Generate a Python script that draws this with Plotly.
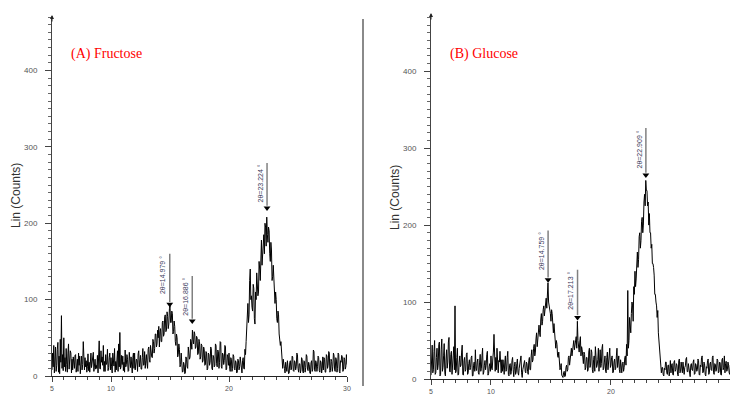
import plotly.graph_objects as go

# 2-theta grid (scan step 0.05 deg)
two_theta = [round(5 + 0.05 * i, 2) for i in range(501)]

fructose = [
    8, 30, 12, 40, 4, 22, 38, 6, 14, 35,
    44, 5, 26, 3, 48, 18, 79, 10, 28, 7,
    50, 12, 24, 6, 36, 15, 5, 30, 42, 9,
    18, 33, 30, 4, 22, 8, 25, 14, 10, 27,
    28, 5, 18, 22, 6, 30, 14, 26, 3, 19,
    26, 8, 15, 45, 20, 8, 24, 12, 20, 5,
    12, 29, 7, 18, 5, 24, 30, 11, 16, 27,
    31, 6, 20, 22, 9, 14, 10, 27, 4, 21,
    46, 10, 9, 33, 18, 25, 14, 40, 6, 19,
    6, 28, 15, 17, 35, 7, 11, 24, 30, 8,
    24, 12, 4, 30, 21, 13, 36, 5, 19, 8,
    21, 33, 6, 42, 12, 57, 9, 12, 27, 15,
    26, 7, 18, 5, 34, 12, 15, 28, 22, 6,
    7, 31, 20, 11, 25, 9, 4, 24, 30, 10,
    30, 8, 14, 22, 20, 6, 29, 33, 12, 18,
    27, 9, 9, 24, 36, 14, 15, 32, 10, 20,
    28, 16, 10, 35, 38, 22, 18, 40, 30, 25,
    24, 48, 45, 30, 36, 55, 55, 38, 42, 60,
    50, 65, 38, 58, 62, 45, 45, 70, 72, 52,
    55, 78, 80, 58, 60, 84, 78, 62, 68, 88,
    92, 70, 70, 85, 82, 55, 58, 72, 65, 45,
    40, 55, 50, 25, 28, 42, 35, 12, 15, 30,
    20, 5, 6, 18, 15, 3, 4, 25, 22, 12,
    10, 38, 32, 22, 25, 48, 45, 35, 60, 48,
    42, 58, 55, 36, 38, 52, 50, 28, 30, 48,
    45, 22, 25, 42, 40, 18, 20, 38, 35, 14,
    15, 32, 30, 8, 10, 30, 28, 14, 18, 38,
    36, 10, 8, 27, 25, 12, 14, 42, 40, 16,
    12, 34, 32, 10, 18, 45, 44, 12, 10, 30,
    28, 15, 20, 40, 38, 8, 9, 28, 25, 14,
    30, 12, 6, 24, 22, 6, 10, 28, 26, 10,
    8, 20, 18, 4, 5, 22, 20, 8, 12, 25,
    15, 6, 4, 20, 24, 10, 9, 35, 28, 45,
    60, 75, 95, 70, 80, 125, 140, 100, 105, 90,
    85, 120, 115, 75, 68, 110, 100, 135, 125, 105,
    110, 150, 140, 125, 155, 178, 145, 160, 170, 185,
    160, 200, 195, 170, 208, 185, 175, 195, 190, 160,
    150, 175, 165, 125, 130, 145, 120, 100, 95, 110,
    100, 75, 70, 85, 80, 55, 50, 40, 45, 28,
    25, 10, 22, 18, 10, 4, 18, 12, 6, 20,
    14, 3, 4, 18, 20, 8, 9, 26, 25, 7,
    6, 20, 18, 8, 12, 30, 28, 10, 5, 16,
    16, 4, 8, 24, 22, 6, 4, 20, 19, 5,
    11, 28, 26, 9, 7, 18, 15, 4, 3, 17,
    20, 6, 9, 34, 32, 8, 6, 20, 17, 6,
    12, 26, 24, 7, 5, 20, 18, 4, 10, 25,
    8, 24, 22, 5, 5, 28, 26, 10, 14, 32,
    30, 5, 7, 22, 19, 6, 12, 30, 27, 8,
    6, 24, 21, 5, 10, 30, 28, 6, 4, 20,
    18, 27, 25, 6, 8, 24, 22, 9, 12, 28,
    15,
]

glucose = [
    5, 30, 44, 8, 12, 36, 50, 6, 8, 28,
    40, 12, 18, 45, 48, 4, 6, 38, 52, 10,
    15, 30, 46, 8, 4, 26, 38, 14, 22, 48,
    54, 10, 9, 32, 36, 6, 14, 30, 42, 12,
    95, 8, 10, 28, 40, 5, 6, 22, 30, 16,
    18, 35, 44, 6, 5, 24, 28, 10, 12, 32,
    34, 6, 8, 20, 25, 12, 15, 28, 30, 4,
    4, 18, 22, 10, 38, 14, 11, 22, 26, 8,
    6, 22, 32, 10, 14, 30, 40, 6, 9, 18,
    24, 12, 18, 32, 36, 5, 7, 16, 20, 10,
    30, 14, 12, 26, 35, 58, 40, 10, 28, 12,
    40, 18, 8, 24, 22, 36, 14, 8, 25, 10,
    25, 8, 6, 22, 30, 10, 12, 28, 36, 6,
    4, 18, 20, 6, 10, 24, 28, 12, 3, 16,
    22, 6, 9, 20, 26, 8, 5, 14, 18, 26,
    30, 8, 2, 12, 15, 20, 24, 10, 8, 22,
    20, 10, 6, 24, 28, 12, 12, 30, 38, 22,
    25, 40, 45, 30, 35, 52, 60, 42, 50, 65,
    70, 60, 55, 78, 85, 70, 75, 90, 95, 82,
    88, 100, 105, 92, 110, 125, 100, 95, 92, 85,
    75, 90, 85, 65, 60, 72, 55, 40, 40, 50,
    45, 30, 28, 35, 20, 12, 15, 20, 5, 2,
    2, 8, 10, 3, 4, 15, 18, 10, 12, 28,
    30, 18, 25, 38, 40, 30, 35, 45, 50, 38,
    45, 52, 55, 40, 75, 50, 40, 35, 48, 55,
    30, 42, 38, 22, 20, 35, 32, 12, 15, 28,
    28, 10, 12, 35, 40, 15, 18, 38, 35, 12,
    8, 25, 30, 10, 42, 30, 15, 18, 25, 40,
    10, 28, 38, 15, 20, 40, 45, 12, 14, 22,
    30, 10, 8, 28, 35, 12, 22, 38, 40, 15,
    18, 28, 30, 8, 9, 22, 26, 12, 14, 30,
    40, 15, 20, 30, 12, 8, 25, 16, 8, 20,
    22, 10, 15, 28, 30, 18, 45, 30, 115, 40,
    50, 80, 70, 60, 85, 100, 95, 75, 120, 110,
    140, 120, 130, 160, 165, 145, 155, 185, 190, 170,
    180, 205, 210, 190, 200, 230, 240, 225, 258, 245,
    245, 225, 230, 200, 215, 190, 190, 170, 175, 150,
    150, 145, 135, 110, 110, 100, 95, 80, 89, 60,
    50, 30, 20, 10, 8, 15, 15, 6, 4, 14,
    12, 22, 22, 8, 6, 18, 18, 4, 10, 24,
    8, 18, 20, 6, 5, 22, 24, 10, 12, 20,
    18, 6, 4, 24, 26, 8, 10, 22, 15, 8,
    22, 8, 6, 15, 17, 26, 28, 10, 9, 20,
    14, 4, 3, 18, 20, 12, 11, 22, 25, 6,
    7, 20, 18, 10, 12, 26, 24, 6, 5, 18,
    16, 28, 30, 8, 9, 22, 20, 6, 4, 16,
    14, 24, 26, 6, 8, 20, 22, 12, 11, 28,
    30, 8, 6, 20, 19, 10, 13, 26, 24, 8,
    9, 22, 21, 6, 5, 25, 27, 12, 15, 30,
    8, 20, 23, 10, 12, 22, 18, 8, 6, 18,
    14,
]

# peak markers: position, arrow tip height, top of marker line
fru_peaks = [14.979, 16.886, 23.224]
fru_tip = [94, 72, 220]
fru_top = [160, 131, 279]
glu_peaks = [14.759, 17.213, 22.909]
glu_tip = [129, 80, 265]
glu_top = [193, 142, 326]

x_ticks = [5, 10, 20, 30]
y_ticks = [0, 100, 200, 300, 400]

fig = go.Figure()
fig.add_trace(go.Scatter(x=two_theta, y=fructose, mode="lines",
                         line=dict(color="black", width=1.0),
                         xaxis="x", yaxis="y", showlegend=False))
fig.add_trace(go.Scatter(x=two_theta, y=glucose, mode="lines",
                         line=dict(color="black", width=1.0),
                         xaxis="x2", yaxis="y2", showlegend=False))

# arrow heads
fig.add_trace(go.Scatter(x=fru_peaks, y=fru_tip, mode="markers",
                         marker=dict(symbol="triangle-down", size=6, color="black"),
                         xaxis="x", yaxis="y", showlegend=False, cliponaxis=False))
fig.add_trace(go.Scatter(x=glu_peaks, y=glu_tip, mode="markers",
                         marker=dict(symbol="triangle-down", size=6, color="black"),
                         xaxis="x2", yaxis="y2", showlegend=False, cliponaxis=False))

shapes = []
annotations = []
for xs, tips, tops, xr, yr in [(fru_peaks, fru_tip, fru_top, "x", "y"),
                               (glu_peaks, glu_tip, glu_top, "x2", "y2")]:
    for p, t, tp in zip(xs, tips, tops):
        shapes.append(dict(type="line", xref=xr, yref=yr, x0=p, x1=p, y0=t + 3, y1=tp,
                           line=dict(color="#808080", width=1.5)))
        annotations.append(dict(x=p, y=tp, xref=xr, yref=yr, text=f"2θ={p:.3f} °",
                                textangle=-90, showarrow=False, xanchor="right",
                                yanchor="top", xshift=-1,
                                font=dict(family="Arial", size=7, color="#3b3b5c")))

tickfont = dict(family="Arial", size=8, color="#555555")
common_x = dict(tickvals=x_ticks, ticks="outside", ticklen=5, tickcolor="#444",
                showline=True, linecolor="#222", linewidth=1, showgrid=False,
                zeroline=False, tickfont=dict(family="Arial", size=7, color="#555555"),
                range=[5, 30], ticklabelstandoff=1, automargin=False,
                minor=dict(dtick=1, ticklen=3, tickcolor="#444", ticks="outside"))
common_y = dict(tickvals=y_ticks, ticks="outside", ticklen=6, tickcolor="#444",
                showline=True, linecolor="#444", linewidth=1, showgrid=False,
                zeroline=False, tickfont=tickfont, ticklabelstandoff=6,
                automargin=False,
                minor=dict(dtick=10, ticklen=3, tickcolor="#666", ticks="outside"))

fig.update_layout(
    width=730, height=394,
    margin=dict(l=0, r=0, t=0, b=0),
    paper_bgcolor="white", plot_bgcolor="white",
    xaxis=dict(common_x, domain=[52 / 730, 347 / 730], anchor="y"),
    yaxis=dict(common_y, domain=[1 - 376 / 394, 1 - 17 / 394], range=[0, 470], anchor="x"),
    xaxis2=dict(common_x, domain=[431 / 730, 1.0], anchor="y2", range=[5, 29.92]),
    yaxis2=dict(common_y, domain=[1 - 379 / 394, 1 - 15 / 394], range=[0, 473], anchor="x2"),
)

# y-axis titles and panel labels
annotations += [
    dict(x=16 / 730, y=1 - 196 / 394, xref="paper", yref="paper", text="Lin (Counts)",
         textangle=-90, showarrow=False, xanchor="center", yanchor="middle",
         font=dict(family="Arial", size=12, color="#333")),
    dict(x=395 / 730, y=1 - 198 / 394, xref="paper", yref="paper", text="Lin (Counts)",
         textangle=-90, showarrow=False, xanchor="center", yanchor="middle",
         font=dict(family="Arial", size=12, color="#333")),
    dict(x=69 / 730, y=1 - 44 / 394, xref="paper", yref="paper", text="(A) Fructose",
         xanchor="left", showarrow=False,
         font=dict(family="Liberation Serif", size=14, color="red")),
    dict(x=448 / 730, y=1 - 44 / 394, xref="paper", yref="paper", text="(B) Glucose",
         xanchor="left", showarrow=False,
         font=dict(family="Liberation Serif", size=14, color="red")),
    # axis arrows at top of y axes
    dict(x=52 / 730, y=1 - 15 / 394, xref="paper", yref="paper", ax=0, ay=8,
         showarrow=True, arrowhead=2, arrowsize=0.8, arrowwidth=1, arrowcolor="#222", text=""),
    dict(x=431 / 730, y=1 - 13 / 394, xref="paper", yref="paper", ax=0, ay=8,
         showarrow=True, arrowhead=2, arrowsize=0.8, arrowwidth=1, arrowcolor="#222", text=""),
]
shapes.append(dict(type="line", xref="paper", yref="paper", x0=363 / 730, x1=363 / 730,
                   y0=1 - 386 / 394, y1=1 - 19 / 394, line=dict(color="#8a8a8a", width=2)))

fig.update_layout(shapes=shapes, annotations=annotations)
fig.write_html("out.html", config={"displayModeBar": False},
               post_script="document.body.style.margin='0';document.body.style.overflow='hidden';")
